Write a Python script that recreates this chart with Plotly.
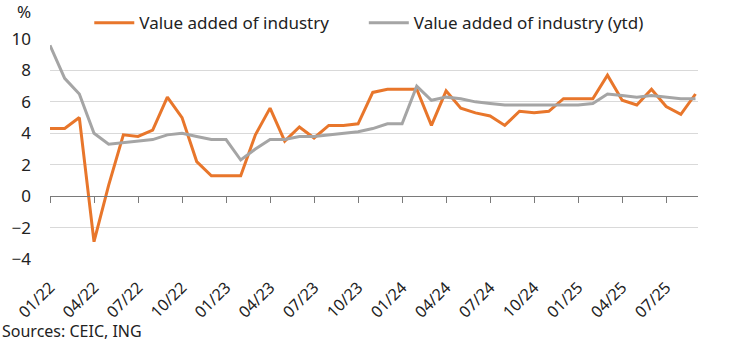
import plotly.graph_objects as go

months = [
    "01/22", "02/22", "03/22", "04/22", "05/22", "06/22", "07/22", "08/22", "09/22", "10/22", "11/22", "12/22",
    "01/23", "02/23", "03/23", "04/23", "05/23", "06/23", "07/23", "08/23", "09/23", "10/23", "11/23", "12/23",
    "01/24", "02/24", "03/24", "04/24", "05/24", "06/24", "07/24", "08/24", "09/24", "10/24", "11/24", "12/24",
    "01/25", "02/25", "03/25", "04/25", "05/25", "06/25", "07/25", "08/25", "09/25",
]
va_industry = [
    4.3, 4.3, 5.0, -2.9, 0.7, 3.9, 3.8, 4.2, 6.3, 5.0, 2.2, 1.3,
    1.3, 1.3, 3.9, 5.6, 3.5, 4.4, 3.7, 4.5, 4.5, 4.6, 6.6, 6.8,
    6.8, 6.8, 4.5, 6.7, 5.6, 5.3, 5.1, 4.5, 5.4, 5.3, 5.4, 6.2,
    6.2, 6.2, 7.7, 6.1, 5.8, 6.8, 5.7, 5.2, 6.5,
]
va_industry_ytd = [
    9.6, 7.5, 6.5, 4.0, 3.3, 3.4, 3.5, 3.6, 3.9, 4.0, 3.8, 3.6,
    3.6, 2.3, 3.0, 3.6, 3.6, 3.8, 3.8, 3.9, 4.0, 4.1, 4.3, 4.6,
    4.6, 7.0, 6.1, 6.3, 6.2, 6.0, 5.9, 5.8, 5.8, 5.8, 5.8, 5.8,
    5.8, 5.9, 6.5, 6.4, 6.3, 6.4, 6.3, 6.2, 6.2,
]
tick_labels = ["01/22", "04/22", "07/22", "10/22", "01/23", "04/23", "07/23", "10/23",
               "01/24", "04/24", "07/24", "10/24", "01/25", "04/25", "07/25"]
y_ticks = [-4, -2, 0, 2, 4, 6, 8, 10]

FONT = "Noto Sans"
TXT = "#222222"
ORANGE = "#E8762B"
GREY = "#A5A5A5"

fig = go.Figure()
fig.add_trace(go.Scatter(x=months, y=va_industry, mode="lines", name="Value added of industry",
                         line=dict(color=ORANGE, width=3), xaxis="x", yaxis="y", legend="legend"))
fig.add_trace(go.Scatter(x=months, y=va_industry_ytd, mode="lines", name="Value added of industry (ytd)",
                         line=dict(color=GREY, width=3), xaxis="x2", yaxis="y", legend="legend2"))

ymin, ymax = -4, 10
xr = [0, 44.17]
legend_common = dict(orientation="h", xref="container", yref="container", y=0.985,
                     xanchor="left", yanchor="top", font=dict(size=17, color=TXT),
                     itemwidth=40, bgcolor="rgba(0,0,0,0)")
fig.update_layout(
    width=744, height=343,
    margin=dict(l=50, r=46, t=39, b=84, autoexpand=False),
    paper_bgcolor="white", plot_bgcolor="white",
    font=dict(family=FONT, size=17, color=TXT),
    showlegend=True,
    legend=dict(x=0.12, **legend_common),
    legend2=dict(x=0.489, **legend_common),
    xaxis=dict(type="category", categoryorder="array", categoryarray=months, range=xr,
               tickmode="array", tickvals=tick_labels, ticktext=tick_labels, tickangle=-45,
               showgrid=False, zeroline=False, showline=False, ticks="", ticklabelstandoff=15,
               tickfont=dict(size=16, color=TXT)),
    xaxis2=dict(type="category", categoryorder="array", categoryarray=months, range=xr,
                overlaying="x", anchor="free", position=(0 - ymin) / (ymax - ymin),
                tickmode="array", tickvals=tick_labels, showticklabels=False,
                showgrid=False, zeroline=False, showline=True, linecolor="#7a7a7a", linewidth=1,
                ticks="outside", ticklen=6, tickcolor="#7a7a7a", tickwidth=1),
    yaxis=dict(range=[ymin, ymax], tickmode="array", tickvals=y_ticks,
               showgrid=True, gridcolor="#D9D9D9", gridwidth=1, zeroline=False, showline=False,
               ticks="", ticklabelstandoff=18, tickfont=dict(size=17, color=TXT)),
    annotations=[
        dict(text="%", xref="paper", yref="paper", x=-0.026, y=1.123, xanchor="right", yanchor="middle",
             showarrow=False, font=dict(size=17, color=TXT)),
        dict(text="Sources: CEIC, ING", xref="paper", yref="paper", x=-0.0772, y=-0.327,
             xanchor="left", yanchor="middle", showarrow=False, font=dict(size=16, color=TXT)),
    ],
)

fig.write_html("out.html")
